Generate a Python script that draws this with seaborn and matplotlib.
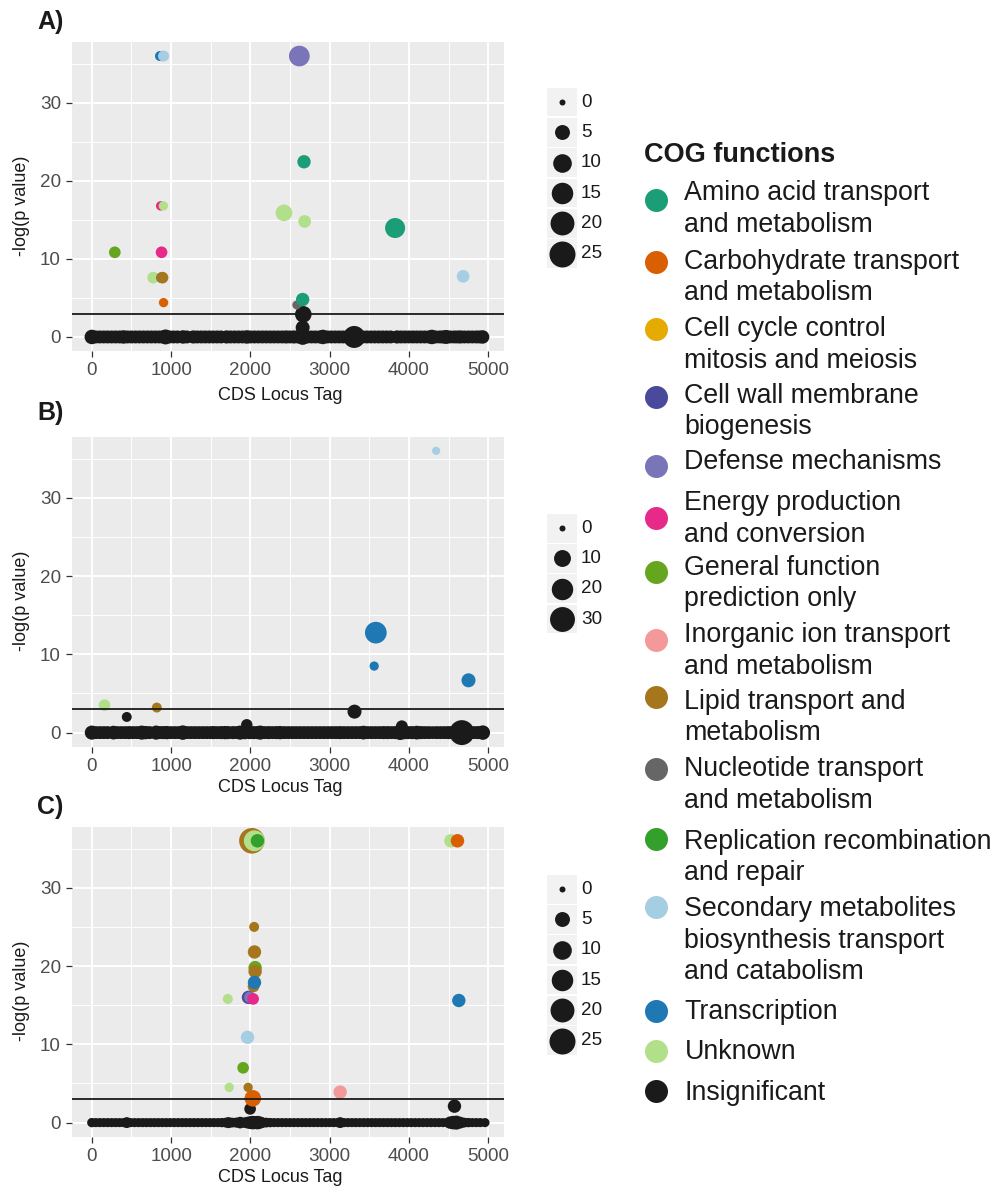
import numpy as np
import pandas as pd
import matplotlib
matplotlib.use("Agg")
import matplotlib.pyplot as plt
from matplotlib.patches import Rectangle
from matplotlib.ticker import MultipleLocator
import seaborn as sns

# ---------------------------------------------------------------- data
cog_names = [
    "Amino acid transport\nand metabolism",
    "Carbohydrate transport\nand metabolism",
    "Cell cycle control\nmitosis and meiosis",
    "Cell wall membrane\nbiogenesis",
    "Defense mechanisms",
    "Energy production\nand conversion",
    "General function\nprediction only",
    "Inorganic ion transport\nand metabolism",
    "Lipid transport and\nmetabolism",
    "Nucleotide transport\nand metabolism",
    "Replication recombination\nand repair",
    "Secondary metabolites\nbiosynthesis transport\nand catabolism",
    "Transcription",
    "Unknown",
    "Insignificant",
]
cog_colors = [
    "#1B9E77", "#D95F02", "#E6AB02", "#4A4A9C", "#7A74B8", "#E7298A",
    "#66A61E", "#F4999A", "#A6761D", "#666666", "#33A02C", "#A6CEE3",
    "#1F78B4", "#B2DF8A", "#1A1A1A",
]
AMI, CAR, CCC, CWM, DEF, ENE, GEN, INO, LIP, NUC, REP, SEC, TRA, UNK, INS = cog_names

# Panel A: significant / annotated loci
a_cat = [TRA, SEC, DEF, AMI, ENE, UNK, UNK, UNK, AMI, GEN, ENE, UNK,
         NUC, LIP, SEC, CAR, NUC, AMI]
a_x = [860, 905, 2618, 2677, 868, 903, 2424, 2685, 3826, 290, 880, 774,
       880, 892, 4684, 905, 2585, 2660]
a_y = [36, 36, 36, 22.45, 16.8, 16.8, 15.9, 14.8, 13.96, 10.85, 10.85, 7.6,
       7.6, 7.6, 7.77, 4.4, 4.1, 4.8]
a_size = [1.0, 1.6, 13.5, 3.4, 0.7, 0.7, 7.1, 2.8, 12.3, 2.0, 2.0, 2.0,
          1.5, 2.0, 2.8, 0.7, 0.5, 3.4]
# Panel A: insignificant loci above zero
a_ins_x = [2655, 2660, 2668]
a_ins_y = [0.5, 1.2, 2.9]
a_ins_size = [3.0, 4.0, 7.0]
# Panel A: insignificant loci at zero
a_base_x = [0, 50, 100, 150, 200, 250, 300, 350, 400, 450,
            500, 550, 600, 650, 700, 750, 800, 850, 900, 930,
            980, 1030, 1080, 1150, 1200, 1280, 1330, 1380, 1430, 1480,
            1530, 1580, 1630, 1700, 1750, 1800, 1850, 1900, 1955, 2000,
            2050, 2100, 2150, 2200, 2250, 2300, 2350, 2400, 2450, 2500,
            2550, 2600, 2660, 2720, 2770, 2820, 2870, 2915, 2970, 3020,
            3070, 3120, 3170, 3220, 3260, 3310, 3360, 3420, 3470, 3520,
            3570, 3620, 3670, 3720, 3770, 3850, 3900, 3950, 4000, 4050,
            4100, 4150, 4200, 4250, 4290, 4340, 4390, 4430, 4470, 4520,
            4570, 4610, 4650, 4700, 4750, 4800, 4850, 4890, 4930]
a_base_size = [4.5, 3.0, 3.0, 3.0, 3.0, 3.0, 3.0, 3.0, 3.5, 3.0,
               3.0, 3.0, 3.0, 3.0, 3.0, 3.0, 3.0, 3.0, 3.2, 5.0,
               3.0, 3.0, 3.0, 3.5, 3.0, 3.2, 3.0, 3.0, 3.0, 3.0,
               3.0, 3.0, 3.0, 3.2, 3.0, 3.0, 3.0, 3.0, 3.5, 3.0,
               3.0, 3.0, 3.0, 3.0, 3.0, 3.0, 3.0, 3.0, 3.2, 3.0,
               3.2, 3.0, 6.0, 3.0, 3.0, 3.0, 3.0, 4.5, 3.0, 3.0,
               3.0, 3.0, 3.0, 3.0, 3.0, 16.0, 3.0, 3.0, 3.0, 3.0,
               3.0, 3.0, 3.0, 3.0, 3.0, 3.2, 3.0, 3.0, 3.0, 3.0,
               3.0, 3.0, 3.0, 3.0, 4.5, 3.0, 3.0, 3.2, 4.0, 3.0,
               3.0, 3.0, 3.2, 3.0, 3.0, 3.0, 3.0, 3.0, 3.5]

# Panel B
b_cat = [SEC, TRA, TRA, TRA, UNK, LIP]
b_x = [4344, 3583, 3562, 4752, 160, 820]
b_y = [36.0, 12.77, 8.5, 6.68, 3.5, 3.2]
b_size = [0.4, 20.7, 0.9, 5.4, 2.7, 1.3]
b_ins_x = [441, 3314, 1955, 3911]
b_ins_y = [2.0, 2.68, 1.0, 0.8]
b_ins_size = [1.3, 5.4, 2.5, 3.0]
b_base_x = [0, 50, 100, 150, 200, 273, 320, 370, 420, 470,
            520, 570, 630, 680, 730, 811, 860, 900, 946, 1000,
            1050, 1100, 1148, 1200, 1250, 1300, 1350, 1400, 1450, 1500,
            1535, 1580, 1630, 1680, 1720, 1780, 1830, 1871, 1930, 1990,
            2040, 2090, 2124, 2180, 2230, 2280, 2330, 2376, 2430, 2480,
            2530, 2580, 2630, 2680, 2730, 2780, 2830, 2880, 2930, 2980,
            3030, 3080, 3130, 3180, 3230, 3280, 3330, 3380, 3427, 3480,
            3530, 3580, 3630, 3680, 3730, 3780, 3830, 3890, 3940, 3990,
            4040, 4100, 4150, 4200, 4250, 4300, 4350, 4400, 4450, 4500,
            4550, 4600, 4668, 4720, 4770, 4820, 4870, 4933]
b_base_size = [5.5, 4.0, 4.0, 4.0, 4.0, 5.0, 4.0, 4.0, 4.0, 4.2,
               4.0, 4.0, 5.5, 4.5, 4.0, 5.5, 4.0, 4.2, 4.5, 4.0,
               4.0, 4.0, 6.0, 4.0, 4.0, 4.0, 4.0, 4.0, 4.0, 4.0,
               4.2, 4.0, 4.2, 4.5, 4.2, 4.2, 4.0, 5.5, 4.5, 4.2,
               4.2, 4.2, 5.5, 4.0, 4.2, 4.0, 4.2, 4.5, 4.0, 4.0,
               4.0, 4.0, 4.0, 4.0, 4.0, 4.0, 4.0, 4.0, 4.0, 4.0,
               4.0, 4.0, 4.2, 4.0, 4.0, 4.0, 4.0, 4.0, 5.0, 4.0,
               4.0, 4.0, 4.0, 4.2, 4.2, 4.0, 4.2, 6.5, 4.5, 4.2,
               4.2, 5.0, 4.2, 4.0, 4.0, 3.8, 4.0, 4.0, 4.0, 4.2,
               4.2, 4.5, 30.0, 4.5, 4.0, 4.0, 4.2, 6.0]

# Panel C
c_cat = [LIP, UNK, UNK, REP, UNK, CAR, LIP, LIP, GEN, LIP, LIP, TRA,
         UNK, CWM, DEF, ENE, TRA, SEC, GEN, UNK, LIP, CAR, INO]
c_x = [2020, 2050, 2070, 2090, 4530, 4613, 2048, 2052, 2060, 2060, 2040, 2052,
       1716, 1976, 1995, 2035, 4630, 1964, 1909, 1733, 1972, 2031, 3133]
c_y = [36, 36, 36, 36, 36, 36, 25.0, 21.8, 19.8, 19.3, 17.4, 17.9,
       15.8, 16.0, 16.0, 15.8, 15.6, 10.9, 7.0, 4.5, 4.5, 3.1, 3.9]
c_size = [24.0, 14.0, 9.0, 3.5, 3.5, 3.5, 1.0, 3.4, 3.4, 3.4, 2.0, 3.4,
          1.0, 3.4, 2.0, 2.0, 3.4, 3.4, 2.0, 0.7, 0.7, 7.0, 3.4]
c_ins_x = [1997, 4575]
c_ins_y = [1.75, 2.1]
c_ins_size = [2.0, 3.4]
c_base_x = [0, 50, 100, 150, 200, 250, 300, 350, 400, 441,
            490, 540, 590, 640, 690, 740, 790, 840, 890, 940,
            990, 1040, 1090, 1140, 1190, 1240, 1290, 1340, 1390, 1440,
            1490, 1540, 1590, 1640, 1690, 1724, 1770, 1820, 1871, 1920,
            1960, 2000, 2030, 2060, 2090, 2120, 2150, 2200, 2250, 2300,
            2350, 2400, 2450, 2500, 2550, 2600, 2650, 2700, 2750, 2800,
            2850, 2900, 2950, 3000, 3050, 3100, 3133, 3180, 3230, 3280,
            3330, 3380, 3430, 3480, 3530, 3580, 3630, 3680, 3730, 3780,
            3830, 3880, 3930, 3980, 4030, 4080, 4130, 4180, 4230, 4280,
            4330, 4380, 4430, 4480, 4520, 4560, 4600, 4650, 4700, 4750,
            4800, 4850, 4900, 4960]
c_base_size = [0.7, 0.6, 0.6, 0.6, 0.6, 0.6, 0.6, 0.6, 0.6, 1.5,
               0.6, 0.6, 0.6, 0.6, 0.6, 0.6, 0.6, 0.6, 0.6, 0.6,
               0.6, 0.6, 0.6, 0.6, 0.6, 0.6, 0.6, 0.6, 0.6, 0.6,
               0.6, 0.6, 0.6, 0.7, 0.9, 1.6, 0.9, 1.0, 2.0, 1.1,
               2.0, 3.0, 3.5, 3.0, 3.5, 2.5, 1.4, 0.9, 0.7, 0.6,
               0.6, 0.6, 0.6, 0.6, 0.6, 0.6, 0.6, 0.6, 0.6, 0.6,
               0.6, 0.6, 0.6, 0.6, 0.6, 0.6, 1.5, 0.6, 0.6, 0.6,
               0.6, 0.6, 0.6, 0.6, 0.6, 0.6, 0.6, 0.6, 0.6, 0.6,
               0.6, 0.6, 0.6, 0.6, 0.6, 0.6, 0.6, 0.6, 0.6, 0.6,
               0.6, 0.6, 0.6, 0.6, 2.5, 3.5, 4.0, 2.0, 0.9, 0.7,
               0.6, 0.6, 0.6, 0.6]

size_breaks_a = [0, 5, 10, 15, 20, 25]
size_breaks_b = [0, 10, 20, 30]
size_breaks_c = [0, 5, 10, 15, 20, 25]

x_ticks = [0, 1000, 2000, 3000, 4000, 5000]
y_ticks = [0, 10, 20, 30]
threshold = 3

# ---------------------------------------------------------------- style
sns.set_theme(style="darkgrid")
plt.rcParams["font.family"] = ["Liberation Sans", "DejaVu Sans"]

W, H = 1004, 1191
fig = plt.figure(figsize=(W / 100, H / 100), dpi=100)
palette = dict(zip(cog_names, cog_colors))


def area(v, k):
    """Marker area (pt^2): diameter grows linearly with sqrt(value)."""
    return (0.72 * (6 + k * np.sqrt(v))) ** 2


def build_frame(cat, x, y, size, ins_x, ins_y, ins_size, base_x, base_size):
    base = pd.DataFrame({"cog": INS, "locus": base_x, "logp": 0.0, "size": base_size})
    ins = pd.DataFrame({"cog": INS, "locus": ins_x, "logp": ins_y, "size": ins_size})
    sig = pd.DataFrame({"cog": cat, "locus": x, "logp": y, "size": size})
    return pd.concat([base, ins, sig], ignore_index=True)


def px_axes(x0, y0, x1, y1):
    return fig.add_axes([x0 / W, 1 - y1 / H, (x1 - x0) / W, (y1 - y0) / H])


panels = [
    ("A)", build_frame(a_cat, a_x, a_y, a_size, a_ins_x, a_ins_y, a_ins_size,
                       a_base_x, a_base_size), 4.0, (42, 351), 395, 21.7),
    ("B)", build_frame(b_cat, b_x, b_y, b_size, b_ins_x, b_ins_y, b_ins_size,
                       b_base_x, b_base_size), 3.45, (436.7, 746.7), 787, 413),
    ("C)", build_frame(c_cat, c_x, c_y, c_size, c_ins_x, c_ins_y, c_ins_size,
                       c_base_x, c_base_size), 4.0, (826.7, 1136.7), 1178, 806.7),
]

for tag, df, k, (top, bottom), xlab_y, tag_y in panels:
    ax = px_axes(72, top, 504, bottom)
    ax.set_facecolor("#EBEBEB")
    marker_area = area(df["size"].to_numpy(), k)
    sns.scatterplot(data=df, x="locus", y="logp", hue="cog", palette=palette,
                    s=marker_area, linewidth=0, edgecolor="none", alpha=1,
                    legend=False, ax=ax, zorder=3)
    ax.axhline(threshold, color="#1A1A1A", lw=1.3, zorder=4)
    ax.set_xlim(-250, 5200)
    ax.set_ylim(-1.8, 37.8)
    ax.set_xticks(x_ticks)
    ax.set_yticks(y_ticks)
    ax.xaxis.set_minor_locator(MultipleLocator(500))
    ax.yaxis.set_minor_locator(MultipleLocator(5))
    ax.grid(which="major", color="white", lw=1.4)
    ax.grid(which="minor", color="white", lw=0.7)
    ax.set_axisbelow(True)
    for s in ax.spines.values():
        s.set_visible(False)
    ax.tick_params(which="major", length=4, width=0.9, color="#333333",
                   labelsize=13.6, labelcolor="#4D4D4D", pad=4,
                   bottom=True, left=True)
    ax.tick_params(which="minor", length=0)
    ax.set_xlabel("")
    ax.set_ylabel("")
    fig.text(280 / W, 1 - xlab_y / H, "CDS Locus Tag", ha="center", va="center",
             fontsize=13, color="#1A1A1A")
    fig.text(21.7 / W, 1 - ((top + bottom) / 2 + 9) / H, "-log(p value)",
             ha="center", va="center", rotation=90, fontsize=13, color="#1A1A1A")
    fig.text(37 / W, 1 - tag_y / H, tag, ha="left", va="center",
             fontsize=18, fontweight="bold", color="#1A1A1A")

# ---------------------------------------------------------------- legends
ov = fig.add_axes([0, 0, 1, 1])
ov.set_xlim(0, W)
ov.set_ylim(H, 0)
ov.axis("off")


def size_legend(breaks, k, top, key=30.3):
    for i, v in enumerate(breaks):
        y0 = top + i * key
        ov.add_patch(Rectangle((547, y0 + 0.8), 30, key - 1.6,
                               facecolor="#F2F2F2", edgecolor="none"))
        ov.scatter([562], [y0 + key / 2], s=area(v, k), color="#1A1A1A", lw=0)
        ov.text(581, y0 + key / 2, str(v), ha="left", va="center",
                fontsize=13.6, color="#1A1A1A")


size_legend(size_breaks_a, 4.0, 87)
size_legend(size_breaks_b, 3.45, 513)
size_legend(size_breaks_c, 4.0, 874)

ov.text(644, 155, "COG functions", ha="left", va="center", fontsize=19.5,
        fontweight="bold", color="#1A1A1A")
dot_y = [200, 262, 329, 397, 466, 518, 572, 640, 697, 769, 839, 907, 1011, 1051, 1091]
line_y = [193, 262, 329, 396, 462, 503, 568, 635, 702, 769, 842, 909, 1012, 1052, 1093]
for name, col, dy, ly in zip(cog_names, cog_colors, dot_y, line_y):
    ov.scatter([656], [dy], s=(0.72 * 23) ** 2, color=col, lw=0)
    for j, line in enumerate(name.split("\n")):
        ov.text(684.5, ly + j * 31.5, line, ha="left", va="center",
                fontsize=19.3, color="#1A1A1A")

fig.savefig("out.png", dpi=100, facecolor="white")
